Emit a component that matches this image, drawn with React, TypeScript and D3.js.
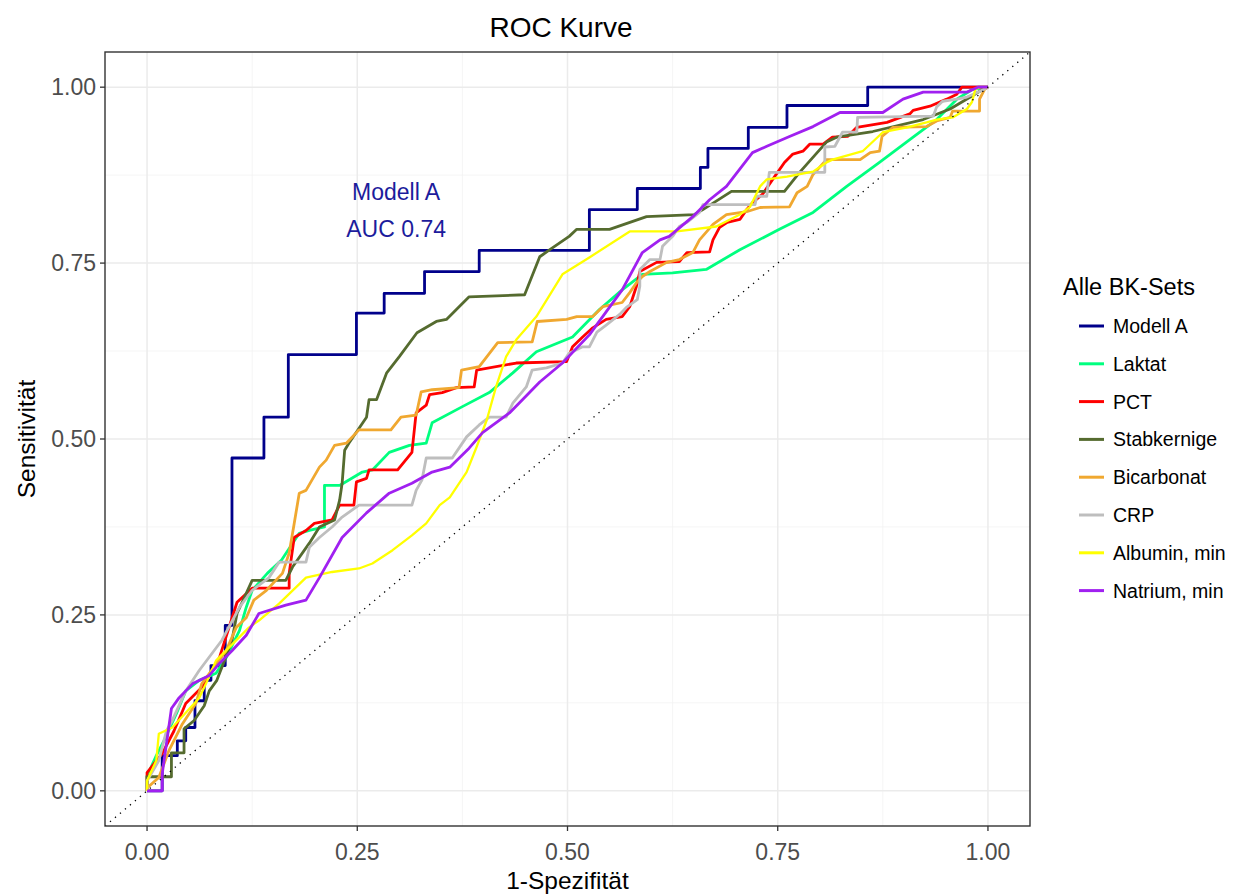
import React from "react";
import * as d3 from "d3";

const seriesNames = ["Modell A", "Laktat", "PCT", "Stabkernige", "Bicarbonat", "CRP", "Albumin, min", "Natrium, min"];
const seriesColors = ["#00008B", "#00FF7F", "#FF0000", "#556B2F", "#F0A830", "#BEBEBE", "#FFFF00", "#A020F0"];

// Modell A: step points (fpr, tpr), drawn as right-then-up steps
const modellA: [number, number][] = [[0,0],[0.018,0.05],[0.036,0.071],[0.046,0.09],[0.057,0.128],[0.068,0.157],[0.076,0.178],[0.093,0.235],[0.101,0.473],[0.139,0.531],[0.168,0.62],[0.249,0.679],[0.282,0.707],[0.330,0.738],[0.395,0.768],[0.526,0.826],[0.583,0.856],[0.658,0.886],[0.667,0.913],[0.715,0.943],[0.761,0.974],[0.857,1],[1,1]];

const laktat: [number, number][] = [[0,0],[0,0.021],[0.011,0.050],[0.020,0.071],[0.035,0.110],[0.046,0.142],[0.062,0.157],[0.082,0.167],[0.094,0.189],[0.110,0.228],[0.118,0.261],[0.125,0.285],[0.143,0.309],[0.160,0.328],[0.181,0.366],[0.193,0.370],[0.211,0.375],[0.211,0.434],[0.229,0.434],[0.256,0.453],[0.268,0.456],[0.288,0.481],[0.312,0.491],[0.332,0.494],[0.339,0.523],[0.375,0.546],[0.407,0.566],[0.435,0.594],[0.463,0.624],[0.506,0.645],[0.538,0.684],[0.565,0.712],[0.589,0.734],[0.625,0.736],[0.665,0.741],[0.705,0.769],[0.752,0.798],[0.792,0.822],[0.832,0.859],[0.871,0.893],[0.911,0.929],[0.939,0.954],[0.963,0.983],[0.982,0.997],[1,1]];

const pct: [number, number][] = [[0,0],[0,0.026],[0.018,0.053],[0.032,0.085],[0.046,0.124],[0.065,0.147],[0.086,0.189],[0.107,0.268],[0.125,0.288],[0.169,0.288],[0.169,0.309],[0.175,0.360],[0.189,0.370],[0.199,0.380],[0.220,0.385],[0.229,0.406],[0.246,0.406],[0.249,0.439],[0.261,0.444],[0.264,0.456],[0.298,0.456],[0.315,0.481],[0.320,0.537],[0.332,0.548],[0.336,0.563],[0.351,0.566],[0.368,0.573],[0.389,0.574],[0.392,0.598],[0.439,0.608],[0.499,0.610],[0.506,0.631],[0.518,0.645],[0.530,0.658],[0.546,0.670],[0.565,0.674],[0.574,0.688],[0.582,0.717],[0.586,0.738],[0.606,0.751],[0.633,0.752],[0.642,0.765],[0.669,0.766],[0.673,0.783],[0.681,0.801],[0.690,0.808],[0.705,0.812],[0.713,0.826],[0.720,0.836],[0.732,0.848],[0.744,0.869],[0.758,0.893],[0.768,0.905],[0.780,0.909],[0.788,0.919],[0.804,0.919],[0.815,0.929],[0.833,0.930],[0.844,0.943],[0.880,0.950],[0.907,0.962],[0.911,0.967],[0.931,0.973],[0.951,0.983],[0.963,0.990],[0.969,1],[1,1]];

const stabkernige: [number, number][] = [[0,0],[0,0.020],[0.029,0.020],[0.029,0.054],[0.044,0.054],[0.044,0.088],[0.056,0.100],[0.068,0.121],[0.074,0.142],[0.083,0.157],[0.092,0.185],[0.101,0.214],[0.107,0.252],[0.125,0.299],[0.165,0.299],[0.173,0.318],[0.193,0.352],[0.205,0.375],[0.223,0.385],[0.229,0.413],[0.232,0.437],[0.235,0.484],[0.240,0.494],[0.261,0.531],[0.264,0.556],[0.273,0.556],[0.285,0.594],[0.300,0.617],[0.321,0.651],[0.344,0.667],[0.356,0.670],[0.383,0.702],[0.449,0.705],[0.467,0.759],[0.479,0.769],[0.502,0.788],[0.511,0.798],[0.550,0.798],[0.594,0.816],[0.651,0.819],[0.661,0.826],[0.695,0.852],[0.758,0.852],[0.776,0.879],[0.808,0.922],[0.820,0.929],[0.863,0.937],[0.923,0.954],[0.955,0.969],[0.979,0.986],[0.994,0.997],[1,1]];

const bicarbonat: [number, number][] = [[0,0],[0,0.004],[0.014,0.019],[0.026,0.057],[0.042,0.095],[0.058,0.124],[0.065,0.152],[0.094,0.199],[0.106,0.232],[0.118,0.246],[0.127,0.271],[0.142,0.285],[0.161,0.309],[0.169,0.338],[0.175,0.380],[0.181,0.423],[0.189,0.427],[0.205,0.460],[0.213,0.470],[0.223,0.491],[0.237,0.494],[0.252,0.513],[0.290,0.513],[0.302,0.531],[0.320,0.534],[0.326,0.567],[0.339,0.570],[0.371,0.573],[0.374,0.598],[0.395,0.603],[0.417,0.637],[0.458,0.638],[0.464,0.667],[0.499,0.670],[0.511,0.674],[0.530,0.674],[0.542,0.688],[0.565,0.694],[0.574,0.708],[0.582,0.722],[0.589,0.731],[0.598,0.738],[0.618,0.751],[0.633,0.755],[0.649,0.765],[0.657,0.783],[0.673,0.805],[0.689,0.819],[0.713,0.823],[0.729,0.829],[0.764,0.830],[0.773,0.850],[0.785,0.859],[0.792,0.876],[0.808,0.897],[0.848,0.897],[0.860,0.907],[0.871,0.909],[0.874,0.930],[0.887,0.943],[0.927,0.944],[0.939,0.952],[0.955,0.957],[0.958,0.966],[0.990,0.966],[0.990,0.983],[0.996,0.997],[1,1]];

const crp: [number, number][] = [[0,0],[0,0.014],[0.014,0.043],[0.023,0.085],[0.030,0.100],[0.046,0.142],[0.062,0.171],[0.089,0.214],[0.110,0.261],[0.125,0.285],[0.145,0.303],[0.157,0.325],[0.189,0.325],[0.193,0.346],[0.205,0.360],[0.220,0.375],[0.232,0.389],[0.252,0.406],[0.315,0.406],[0.320,0.427],[0.327,0.442],[0.332,0.473],[0.363,0.473],[0.380,0.503],[0.395,0.520],[0.407,0.531],[0.427,0.531],[0.435,0.551],[0.451,0.574],[0.458,0.598],[0.475,0.601],[0.494,0.608],[0.502,0.622],[0.518,0.631],[0.526,0.631],[0.535,0.652],[0.546,0.662],[0.562,0.677],[0.570,0.687],[0.583,0.698],[0.586,0.717],[0.586,0.741],[0.598,0.755],[0.610,0.755],[0.613,0.774],[0.625,0.788],[0.633,0.802],[0.642,0.808],[0.657,0.822],[0.661,0.833],[0.723,0.833],[0.725,0.845],[0.737,0.845],[0.740,0.879],[0.806,0.879],[0.806,0.915],[0.818,0.916],[0.827,0.936],[0.844,0.936],[0.845,0.957],[0.935,0.959],[0.939,0.972],[0.946,0.980],[0.963,0.983],[0.975,0.986],[0.990,0.994],[1,1]];

const albumin: [number, number][] = [[0,0],[0,0.014],[0.011,0.043],[0.014,0.081],[0.030,0.090],[0.062,0.132],[0.070,0.152],[0.082,0.185],[0.121,0.232],[0.133,0.242],[0.157,0.266],[0.189,0.303],[0.220,0.311],[0.252,0.316],[0.268,0.323],[0.292,0.342],[0.315,0.363],[0.332,0.380],[0.348,0.406],[0.360,0.417],[0.380,0.453],[0.392,0.489],[0.404,0.527],[0.415,0.574],[0.427,0.617],[0.439,0.641],[0.463,0.674],[0.494,0.734],[0.526,0.758],[0.574,0.795],[0.630,0.795],[0.677,0.802],[0.705,0.819],[0.717,0.830],[0.729,0.859],[0.737,0.869],[0.761,0.873],[0.792,0.880],[0.808,0.893],[0.815,0.897],[0.851,0.909],[0.875,0.936],[0.904,0.943],[0.927,0.950],[0.939,0.954],[0.958,0.957],[0.975,0.969],[0.981,0.979],[0.985,0.997],[0.990,1],[1,1]];

const natrium: [number, number][] = [[0,0],[0.018,0],[0.018,0.024],[0.029,0.117],[0.038,0.132],[0.054,0.152],[0.074,0.164],[0.086,0.181],[0.101,0.199],[0.118,0.221],[0.133,0.252],[0.165,0.264],[0.189,0.271],[0.205,0.303],[0.232,0.360],[0.261,0.395],[0.288,0.423],[0.315,0.437],[0.339,0.453],[0.360,0.460],[0.383,0.487],[0.399,0.509],[0.431,0.537],[0.467,0.581],[0.494,0.608],[0.526,0.648],[0.565,0.712],[0.589,0.765],[0.610,0.783],[0.621,0.788],[0.649,0.816],[0.669,0.840],[0.689,0.859],[0.720,0.907],[0.737,0.916],[0.764,0.930],[0.792,0.944],[0.824,0.964],[0.875,0.964],[0.899,0.983],[0.923,0.993],[0.975,0.993],[0.988,1],[1,1]];

const majorTicks = [0, 0.25, 0.5, 0.75, 1];
const minorTicks = [0.125, 0.375, 0.625, 0.875];
const tickLabels = ["0.00", "0.25", "0.50", "0.75", "1.00"];
const annotationLines = ["Modell A", "AUC 0.74"];
const annotationPos: [number, number] = [0.295, 0.845];

const FONT = "'Liberation Sans', Arial, sans-serif";

export default function App() {
  const W = 1241, H = 894;
  const L = 105, R = 1030, T = 52, B = 826;
  const x = d3.scaleLinear().domain([-0.05, 1.05]).range([L, R]);
  const y = d3.scaleLinear().domain([-0.05, 1.05]).range([B, T]);
  const line = d3.line<[number, number]>().x(d => x(d[0])).y(d => y(d[1]));
  const stepLine = d3.line<[number, number]>().x(d => x(d[0])).y(d => y(d[1])).curve(d3.curveStepAfter);
  const allSeries = [modellA, laktat, pct, stabkernige, bicarbonat, crp, albumin, natrium];

  const legendRow0 = 326;
  const legendStep = 37.8;
  const tickFont = 23;

  return (
    <svg width={W} height={H} style={{ position: "absolute", left: 0, top: 0, background: "#fff" }} fontFamily={FONT}>
      <defs>
        <clipPath id="panel"><rect x={L} y={T} width={R - L} height={B - T} /></clipPath>
      </defs>
      <rect x={0} y={0} width={W} height={H} fill="#fff" />
      {minorTicks.map(t => (
        <g key={"mn" + t}>
          <line x1={x(t)} x2={x(t)} y1={T} y2={B} stroke="#F2F2F2" strokeWidth={0.8} />
          <line x1={L} x2={R} y1={y(t)} y2={y(t)} stroke="#F2F2F2" strokeWidth={0.8} />
        </g>
      ))}
      {majorTicks.map(t => (
        <g key={"mj" + t}>
          <line x1={x(t)} x2={x(t)} y1={T} y2={B} stroke="#EBEBEB" strokeWidth={1.5} />
          <line x1={L} x2={R} y1={y(t)} y2={y(t)} stroke="#EBEBEB" strokeWidth={1.5} />
        </g>
      ))}
      <g clipPath="url(#panel)" fill="none" strokeLinejoin="round">
        {allSeries.map((s, i) => (
          <path key={i} d={(i === 0 ? stepLine(s) : line(s)) || ""} stroke={seriesColors[i]} strokeWidth={i === 6 ? 2.3 : 2.8} />
        ))}
        <line x1={x(-0.05)} y1={y(-0.05)} x2={x(1.05)} y2={y(1.05)} stroke="#000" strokeWidth={1.3} strokeDasharray="1.3 5.2" />
      </g>
      {annotationLines.map((t, i) => (
        <text key={t} x={x(annotationPos[0]) + 1} y={y(annotationPos[1]) + 4 + i * 37} textAnchor="middle" fontSize={23} fill="#1C1C9C">{t}</text>
      ))}
      <rect x={L} y={T} width={R - L} height={B - T} fill="none" stroke="#333333" strokeWidth={1.4} />
      {majorTicks.map((t, i) => (
        <g key={"t" + t}>
          <line x1={x(t)} x2={x(t)} y1={B} y2={B + 5} stroke="#333333" strokeWidth={1.3} />
          <text x={x(t)} y={B + 34} textAnchor="middle" fontSize={tickFont} fill="#4D4D4D">{tickLabels[i]}</text>
          <line x1={L - 5} x2={L} y1={y(t)} y2={y(t)} stroke="#333333" strokeWidth={1.3} />
          <text x={L - 9} y={y(t) + 8} textAnchor="end" fontSize={tickFont} fill="#4D4D4D">{tickLabels[i]}</text>
        </g>
      ))}
      <text x={561} y={37} textAnchor="middle" fontSize={28} fill="#000">ROC Kurve</text>
      <text x={(L + R) / 2} y={889} textAnchor="middle" fontSize={24.5} fill="#000">1-Spezifität</text>
      <text transform={`translate(35, ${(T + B) / 2}) rotate(-90)`} textAnchor="middle" fontSize={24.5} fill="#000">Sensitivität</text>
      <text x={1063} y={295} fontSize={23.5} fill="#000">Alle BK-Sets</text>
      {seriesNames.map((n, i) => (
        <g key={n}>
          <line x1={1079} x2={1104} y1={legendRow0 + i * legendStep} y2={legendRow0 + i * legendStep} stroke={seriesColors[i]} strokeWidth={3} />
          <text x={1113} y={legendRow0 + i * legendStep + 7} fontSize={19.5} fill="#000">{n}</text>
        </g>
      ))}
    </svg>
  );
}
